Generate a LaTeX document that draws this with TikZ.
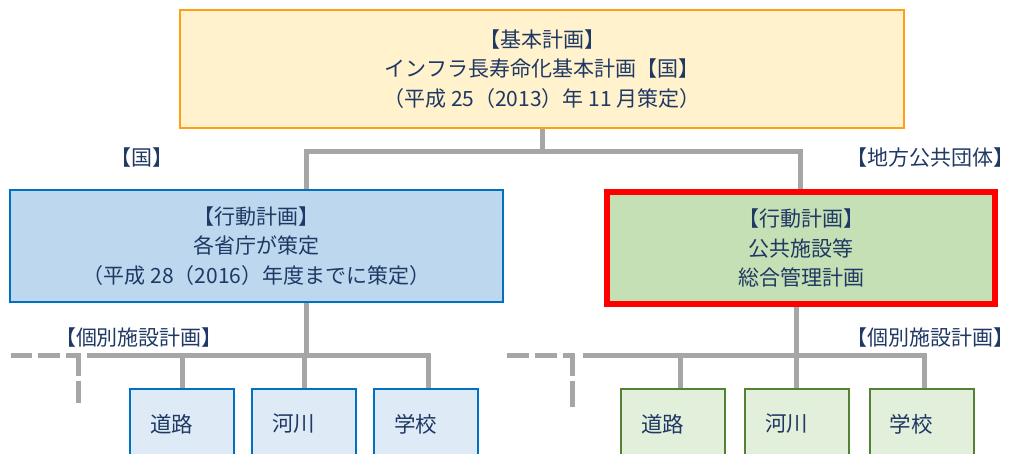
\documentclass[tikz,border=0pt]{standalone}
\usepackage{fontspec}
\setmainfont{Noto Sans CJK JP}
\definecolor{txt}{RGB}{31,56,100}
\definecolor{conncol}{RGB}{166,166,166}
\definecolor{topfill}{RGB}{255,242,204}
\definecolor{topdraw}{RGB}{255,160,20}
\definecolor{bluefill}{RGB}{189,215,238}
\definecolor{bluedraw}{RGB}{0,112,192}
\definecolor{greenfill}{RGB}{197,224,180}
\definecolor{lbluefill}{RGB}{222,235,247}
\definecolor{lgreenfill}{RGB}{226,239,218}
\definecolor{greendraw}{RGB}{84,130,53}
\begin{document}
\begin{tikzpicture}[x=1pt,y=-1pt,
  every node/.style={text=txt, inner sep=0pt, align=center, font=\fontsize{21}{29.5}\selectfont},
  bigbox/.style={rectangle, line width=2pt},
  topbox/.style={bigbox, draw=topdraw, fill=topfill},
  bluebox/.style={bigbox, draw=bluedraw, fill=bluefill},
  greenbox/.style={rectangle, line width=6pt, draw=red, fill=greenfill},
  smallbox/.style={rectangle, line width=2pt, anchor=north, minimum height=70pt,
    text width=64pt, inner xsep=20pt, align=left, font=\fontsize{21.5}{26}\selectfont},
  sblue/.style={smallbox, draw=bluedraw, fill=lbluefill},
  sgreen/.style={smallbox, draw=greendraw, fill=lgreenfill},
  lbl/.style={font=\fontsize{21}{25}\selectfont},
  conn/.style={draw=conncol, line width=5pt}]
\clip (0,0) rectangle (1013,454);
% main boxes
\node[topbox, minimum width=724pt, minimum height=118pt] (top) at (542,69)
  {【基本計画】\\インフラ長寿命化基本計画【国】\\（平成 25（2013）年 11 月策定）};
\node[bluebox, minimum width=493pt, minimum height=112pt] (left) at (256.5,246)
  {【行動計画】\\各省庁が策定\\（平成 28（2016）年度までに策定）};
\node[greenbox, minimum width=388pt, minimum height=112pt] (right) at (801,248)
  {【行動計画】\\公共施設等\\総合管理計画};
% labels
\node[lbl] (lkuni) at (142,158) {【国】};
\node[lbl] (lchiho) at (930,158) {【地方公共団体】};
\node[lbl] (lkobetsuL) at (139,338) {【個別施設計画】};
\node[lbl] (lkobetsuR) at (930,338) {【個別施設計画】};
% small boxes
\node[sblue] (a1) at (182,388) {道路};
\node[sblue] (a2) at (304,388) {河川};
\node[sblue] (a3) at (426,388) {学校};
\node[sgreen] (b1) at (673,388) {道路};
\node[sgreen] (b2) at (797,388) {河川};
\node[sgreen] (b3) at (921.5,388) {学校};
% coordinates
\coordinate (hL) at (306,152);
\coordinate (hR) at (800,152);
\coordinate (la) at (306,356);
\coordinate (lw) at (87,356);
\coordinate (le) at (428,356);
\coordinate (ra) at (796,356);
\coordinate (rw) at (583,356);
\coordinate (re) at (924,356);
\coordinate (rb1) at (680,356);
\coordinate (ldash) at (11,356);
\coordinate (ldc) at (78,356);
\coordinate (ldend) at (78,403);
\coordinate (rdash) at (507,356);
\coordinate (rdc) at (572,356);
\coordinate (rdend) at (572,407);
% connectors top
\draw[conn] (top.south) -- (top.south |- hL);
\draw[conn] (left.north -| hL) -- (hL) -- (hR) -- (right.north -| hR);
% left lower
\draw[conn] (left.south -| la) -- (la);
\draw[conn] (lw) -- (le) -- (a3.north -| le);
\draw[conn] (a1.north |- lw) -- (a1.north);
\draw[conn] (a2.north |- lw) -- (a2.north);
\draw[conn, dash pattern=on 21pt off 6pt on 22pt off 6pt on 32pt off 5pt on 30pt off 5pt] (ldash) -- (ldc) -- (ldend);
% right lower
\draw[conn] (right.south -| ra) -- (ra);
\draw[conn] (rw) -- (re) -- (b3.north -| re);
\draw[conn] (rb1) -- (b1.north -| rb1);
\draw[conn] (ra) -- (b2.north -| ra);
\draw[conn, dash pattern=on 22pt off 6pt on 22pt off 6pt on 29pt off 5pt on 30pt off 5pt] (rdash) -- (rdc) -- (rdend);
\end{tikzpicture}
\end{document}
